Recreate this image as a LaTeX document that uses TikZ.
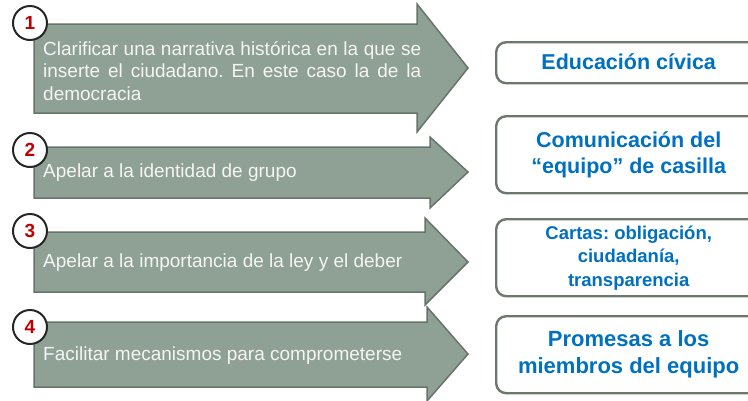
\documentclass[tikz,border=0pt]{standalone}
\usepackage{fontspec}
\setmainfont{Liberation Sans}
\frenchspacing
\definecolor{flechagris}{HTML}{8FA094}
\definecolor{flechaborde}{HTML}{66756A}
\definecolor{cajaborde}{HTML}{6C776D}
\definecolor{azul}{HTML}{0070C0}
\definecolor{rojo}{HTML}{C00000}
\tikzset{
  flecha/.style={fill=flechagris, draw=flechaborde, line width=1.5pt, line join=miter},
  paso/.style={anchor=west, text=white!96!black, inner xsep=9pt, inner ysep=0pt,
    font=\fontsize{19}{22.5}\selectfont},
  numero/.style={circle, draw=black!85, fill=white, line width=2pt, minimum size=34pt,
    inner sep=0pt, text=rojo, font=\bfseries\fontsize{19}{19}\selectfont},
  caja/.style={draw=cajaborde, fill=white, line width=2.4pt, rounded corners=10pt,
    anchor=north west, minimum width=265pt, align=center, text=azul, inner sep=0pt},
}
\begin{document}
\begin{tikzpicture}[x=1pt,y=-1pt]
        \useasboundingbox (0,0) rectangle (748,400);
        \clip (0,0) rectangle (748,400);
        % flechas
        \draw[flecha] (34,24) -- (417,24) -- (417,4) -- (468,68) -- (417,132) -- (417,113) -- (34,113) -- cycle;
        \draw[flecha] (34,147) -- (430,147) -- (430,137) -- (468,172) -- (430,208) -- (430,198) -- (34,198) -- cycle;
        \draw[flecha] (34,232) -- (425,232) -- (425,218) -- (468,262) -- (425,305) -- (425,292) -- (34,292) -- cycle;
        \draw[flecha] (34,322) -- (427,322) -- (427,307) -- (468,354) -- (427,401) -- (427,387) -- (34,387) -- cycle;
        \node[paso, text width=378pt, align=justify] (t1) at (34,71)
            {Clarificar una narrativa histórica en la que se\linebreak inserte el ciudadano. En este caso la de la\linebreak democracia};
        \node[paso] (t2) at (34,173) {Apelar a la identidad de grupo};
        \node[paso] (t3) at (34,263) {Apelar a la importancia de la ley y el deber};
        \node[paso] (t4) at (34,356) {Facilitar mecanismos para comprometerse};
        % numeros
        \node[numero] (n1) at (30,23) {1};
        \node[numero] (n2) at (30,150) {2};
        \node[numero] (n3) at (30,231) {3};
        \node[numero] (n4) at (30,327) {4};
        % cajas
        \node[caja, minimum height=41pt, font=\bfseries\fontsize{21.5}{26}\selectfont] (c1) at (495,41)
            {\raisebox{3pt}{Educación cívica}};
        \node[caja, minimum height=77pt, font=\bfseries\fontsize{21.5}{26}\selectfont] (c2) at (495,115)
            {Comunicación del\\“equipo” de casilla};
        \node[caja, minimum height=77pt, font=\bfseries\fontsize{18.5}{23.5}\selectfont] (c3) at (495,218)
            {Cartas: obligación,\\ciudadanía,\\transparencia};
        \node[caja, minimum height=77pt, font=\bfseries\fontsize{22}{27}\selectfont] (c4) at (495,315)
            {Promesas a los\\miembros del equipo};
\end{tikzpicture}
\end{document}
